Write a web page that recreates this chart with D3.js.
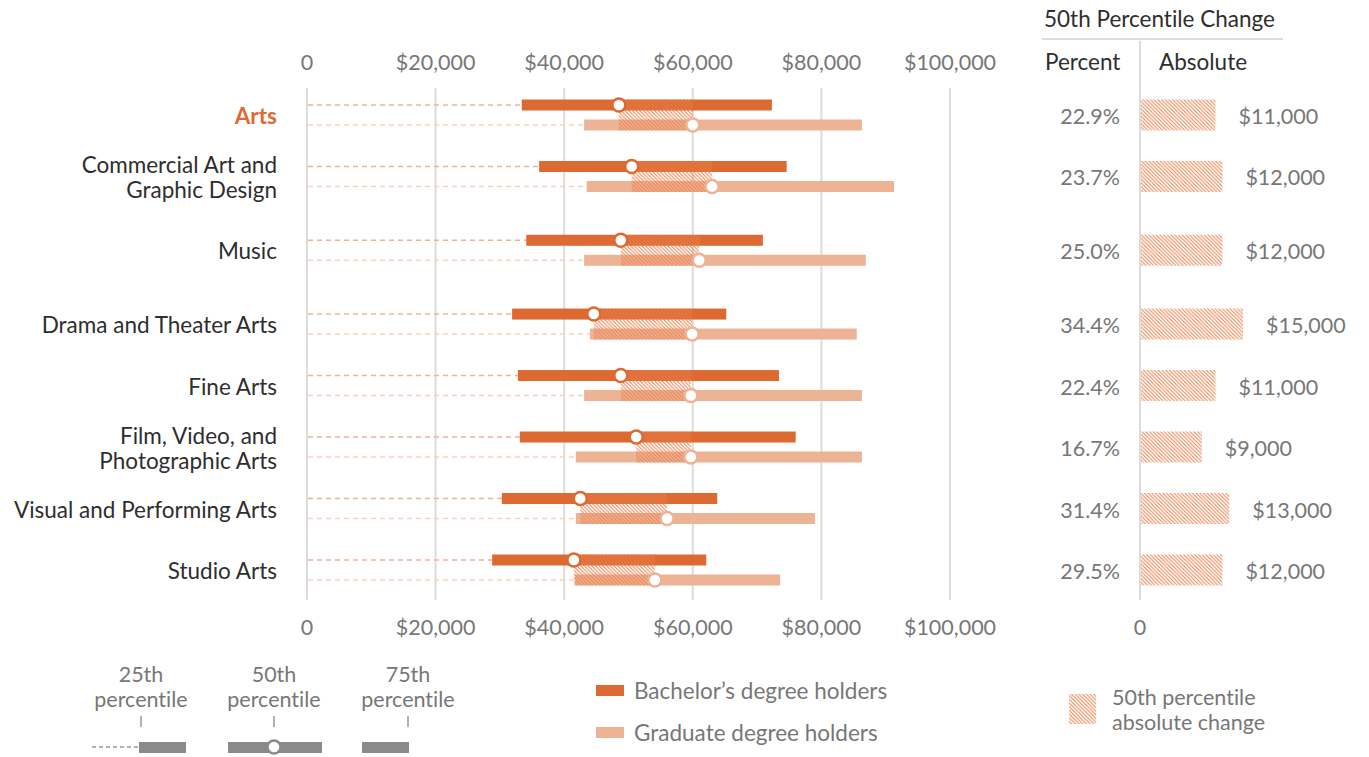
<!DOCTYPE html>
<html>
<head>
<meta charset="utf-8">
<script src="https://cdn.jsdelivr.net/npm/d3@7"></script>
<style>
  body { margin: 0; background: #fff; }
  svg text { font-family: Lato, "Open Sans", sans-serif; font-variant-ligatures: none; }
</style>
</head>
<body>
<svg width="1369" height="757"></svg>
<script>
// data
var majors = ["Arts", "Commercial Art and|Graphic Design", "Music", "Drama and Theater Arts",
  "Fine Arts", "Film, Video, and|Photographic Arts", "Visual and Performing Arts", "Studio Arts"];
var bach25 = [33400, 36100, 34100, 31900, 32800, 33100, 30300, 28800];
var bach50 = [48500, 50500, 48800, 44600, 48800, 51200, 42500, 41500];
var bach75 = [72300, 74600, 70900, 65200, 73400, 76000, 63800, 62100];
var grad25 = [43100, 43500, 43100, 44000, 43100, 41800, 41800, 41700];
var grad50 = [60000, 63000, 61000, 59900, 59700, 59700, 56000, 54100];
var grad75 = [86300, 91300, 86900, 85500, 86300, 86300, 79000, 73600];
var pctChange = ["22.9%", "23.7%", "25.0%", "34.4%", "22.4%", "16.7%", "31.4%", "29.5%"];
var absChange = [11000, 12000, 12000, 15000, 11000, 9000, 13000, 12000];
var xTicks = [0, 20000, 40000, 60000, 80000, 100000];

// layout (row spacing of the original is uneven)
var rowSlot = [0, 1, 2.2, 3.4, 4.4, 5.4, 6.4, 7.4];

var darkC = "#dc6a32", lightC = "#edb395", hatchC = "#ea7f4c",
    gridC = "#dcdcdc", tickC = "#777", labelC = "#2e2e2e";
var fTick = 21.5, fLab = 22.5;

var svg = d3.select("svg");

var defs = svg.append("defs");
var pat = defs.append("pattern")
    .attr("id", "hatch")
    .attr("patternUnits", "userSpaceOnUse")
    .attr("width", 3.7).attr("height", 3.7);
pat.append("path")
    .attr("d", "M-1,-1L4.7,4.7M-1,2.7L1,4.7M2.7,-1L4.7,1")
    .attr("stroke", hatchC)
    .attr("stroke-width", 1);

var x = d3.scaleLinear().domain([0, 100000]).range([307, 950]);
var y = d3.scaleLinear().domain([0, 7.4]).range([105, 560]);
var xAbs = d3.scaleLinear().domain([0, 15000]).range([1140, 1243]);
var gap = 20, barH = 11;

var rows = majors.map(function(m, i) {
  return { label: m, slot: rowSlot[i], b25: bach25[i], b50: bach50[i], b75: bach75[i],
    g25: grad25[i], g50: grad50[i], g75: grad75[i], pct: pctChange[i], abs: absChange[i] };
});

// grid + axes
svg.append("g").selectAll("line").data(xTicks).enter().append("line")
    .attr("x1", function(d) { return x(d); }).attr("x2", function(d) { return x(d); })
    .attr("y1", 88).attr("y2", 600)
    .attr("stroke", gridC).attr("stroke-width", 2);

function axisLabels(yy) {
  svg.append("g").selectAll("text").data(xTicks).enter().append("text")
      .attr("x", function(d) { return x(d); })
      .attr("y", yy)
      .attr("text-anchor", "middle")
      .attr("fill", tickC)
      .attr("font-size", fTick)
      .text(function(d) { return d === 0 ? "0" : d3.format("$,")(d); });
}
axisLabels(70);
axisLabels(635);

// row labels
var lab = svg.append("g").selectAll("text").data(rows).enter().append("text")
    .attr("x", 277)
    .attr("text-anchor", "end")
    .attr("font-size", fLab)
    .attr("fill", function(d, i) { return i === 0 ? darkC : labelC; })
    .attr("font-weight", function(d, i) { return i === 0 ? "bold" : null; });
lab.each(function(d) {
  var parts = d.label.split("|"), t = d3.select(this), cy = y(d.slot) + gap / 2 + 1;
  parts.forEach(function(p, k) {
    t.append("tspan").attr("x", 277)
      .attr("y", cy + 8 + (k - (parts.length - 1) / 2) * 25)
      .text(p);
  });
});

var g = svg.append("g");

// dashed leaders
g.selectAll(".dashB").data(rows).enter().append("line")
    .attr("x1", x(0) + 1).attr("x2", function(d) { return x(d.b25); })
    .attr("y1", function(d) { return y(d.slot); }).attr("y2", function(d) { return y(d.slot); })
    .attr("stroke", "#f0b494").attr("stroke-width", 1.5).attr("stroke-dasharray", "5,4");
g.selectAll(".dashG").data(rows).enter().append("line")
    .attr("x1", x(0) + 1).attr("x2", function(d) { return x(d.g25); })
    .attr("y1", function(d) { return y(d.slot) + gap; }).attr("y2", function(d) { return y(d.slot) + gap; })
    .attr("stroke", "#f6d3c0").attr("stroke-width", 1.5).attr("stroke-dasharray", "5,4");

// bars
g.selectAll(".barB").data(rows).enter().append("rect")
    .attr("x", function(d) { return x(d.b25); })
    .attr("width", function(d) { return x(d.b75) - x(d.b25); })
    .attr("y", function(d) { return y(d.slot) - barH / 2; })
    .attr("height", barH).attr("fill", darkC);
g.selectAll(".barG").data(rows).enter().append("rect")
    .attr("x", function(d) { return x(d.g25); })
    .attr("width", function(d) { return x(d.g75) - x(d.g25); })
    .attr("y", function(d) { return y(d.slot) + gap - barH / 2; })
    .attr("height", barH).attr("fill", lightC);

// hatch between medians
g.selectAll(".hatch").data(rows).enter().append("rect")
    .attr("x", function(d) { return x(d.b50); })
    .attr("width", function(d) { return x(d.g50) - x(d.b50); })
    .attr("y", function(d) { return y(d.slot) - barH / 2; })
    .attr("height", gap + barH).attr("fill", "url(#hatch)");

// medians
g.selectAll(".medB").data(rows).enter().append("circle")
    .attr("cx", function(d) { return x(d.b50); }).attr("cy", function(d) { return y(d.slot); })
    .attr("r", 6.5).attr("fill", "#fff").attr("stroke", darkC).attr("stroke-width", 2.5);
g.selectAll(".medG").data(rows).enter().append("circle")
    .attr("cx", function(d) { return x(d.g50); }).attr("cy", function(d) { return y(d.slot) + gap; })
    .attr("r", 6.5).attr("fill", "#fff").attr("stroke", lightC).attr("stroke-width", 2.5);

// right panel
svg.append("text").attr("x", 1044).attr("y", 27).attr("font-size", fLab).attr("fill", labelC)
    .text("50th Percentile Change");
svg.append("line").attr("x1", 1042).attr("x2", 1283).attr("y1", 39).attr("y2", 39)
    .attr("stroke", gridC).attr("stroke-width", 2);
svg.append("line").attr("x1", xAbs(0)).attr("x2", xAbs(0)).attr("y1", 41).attr("y2", 600)
    .attr("stroke", gridC).attr("stroke-width", 2);
svg.append("text").attr("x", 1045).attr("y", 70).attr("font-size", fLab).attr("fill", labelC).text("Percent");
svg.append("text").attr("x", 1159).attr("y", 70).attr("font-size", fLab).attr("fill", labelC).text("Absolute");
svg.append("text").attr("x", xAbs(0)).attr("y", 635).attr("font-size", fTick).attr("fill", tickC)
    .attr("text-anchor", "middle").text("0");

var rp = svg.append("g");
rp.selectAll(".pct").data(rows).enter().append("text")
    .attr("x", 1120).attr("y", function(d) { return y(d.slot) + gap / 2 + 9; })
    .attr("text-anchor", "end").attr("font-size", fTick).attr("fill", tickC)
    .text(function(d) { return d.pct; });
rp.selectAll(".absBar").data(rows).enter().append("rect")
    .attr("x", xAbs(0) + 1)
    .attr("width", function(d) { return xAbs(d.abs) - xAbs(0) - 1; })
    .attr("y", function(d) { return y(d.slot) - barH / 2; })
    .attr("height", gap + barH).attr("fill", "url(#hatch)");
rp.selectAll(".absLab").data(rows).enter().append("text")
    .attr("x", function(d) { return xAbs(d.abs) + 23; })
    .attr("y", function(d) { return y(d.slot) + gap / 2 + 9; })
    .attr("font-size", fTick).attr("fill", tickC)
    .text(function(d) { return d3.format("$,")(d.abs); });

// legend: percentiles
var legG = "#8a8a8a";
var lg = svg.append("g");
[["25th", 141], ["50th", 274], ["75th", 408]].forEach(function(p) {
  lg.append("text").attr("x", p[1]).attr("y", 682).attr("text-anchor", "middle")
    .attr("font-size", fTick).attr("fill", tickC).text(p[0]);
  lg.append("text").attr("x", p[1]).attr("y", 707).attr("text-anchor", "middle")
    .attr("font-size", fTick).attr("fill", tickC).text("percentile");
  lg.append("line").attr("x1", p[1]).attr("x2", p[1]).attr("y1", 716).attr("y2", 727)
    .attr("stroke", "#999").attr("stroke-width", 1.5);
});
lg.append("line").attr("x1", 92).attr("x2", 139).attr("y1", 747).attr("y2", 747)
    .attr("stroke", "#999").attr("stroke-width", 1.5).attr("stroke-dasharray", "4,3");
lg.append("rect").attr("x", 139).attr("y", 742).attr("width", 47).attr("height", 11).attr("fill", legG);
lg.append("rect").attr("x", 228).attr("y", 742).attr("width", 94).attr("height", 11).attr("fill", legG);
lg.append("circle").attr("cx", 274).attr("cy", 747).attr("r", 6.5).attr("fill", "#fff")
    .attr("stroke", legG).attr("stroke-width", 2.5);
lg.append("rect").attr("x", 362).attr("y", 742).attr("width", 47).attr("height", 11).attr("fill", legG);

// legend: series
var ls = svg.append("g");
[["Bachelor\u2019s degree holders", darkC, 691], ["Graduate degree holders", lightC, 733]].forEach(function(s) {
  ls.append("rect").attr("x", 596).attr("y", s[2] - 6).attr("width", 28).attr("height", 11).attr("fill", s[1]);
  ls.append("text").attr("x", 634).attr("y", s[2] + 8).attr("font-size", fLab).attr("fill", tickC).text(s[0]);
});
ls.append("rect").attr("x", 1069).attr("y", 694).attr("width", 27).attr("height", 30).attr("fill", "url(#hatch)");
ls.append("text").attr("x", 1112).attr("y", 705).attr("font-size", fTick).attr("fill", tickC).text("50th percentile");
ls.append("text").attr("x", 1112).attr("y", 730).attr("font-size", fTick).attr("fill", tickC).text("absolute change");
</script>
</body>
</html>
